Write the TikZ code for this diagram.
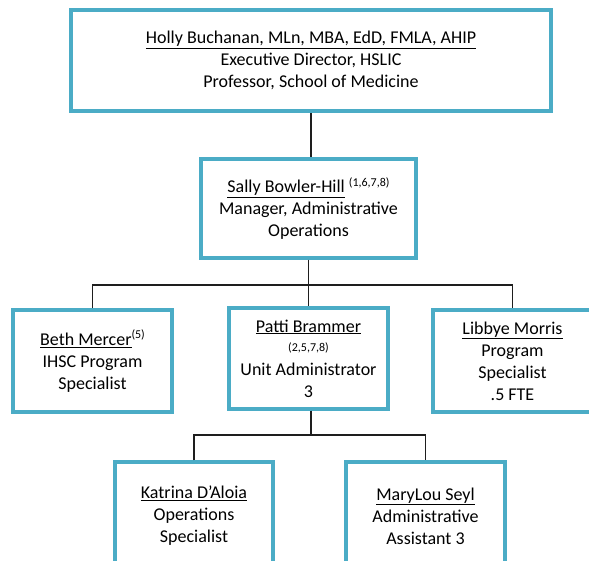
\documentclass[tikz,border=0pt]{standalone}
\usepackage{fontspec}
\setmainfont{Carlito}
\definecolor{boxteal}{RGB}{75,172,198}
\definecolor{linegray}{RGB}{30,30,30}
\newcommand{\supnum}[1]{\raisebox{6.5pt}{\fontsize{12}{14}\selectfont #1}}
\begin{document}
\begin{tikzpicture}[x=1pt,y=-1pt,
  orgbox/.style={draw=boxteal,line width=3.2pt,fill=white,inner sep=0pt,align=center,
    font=\fontsize{18}{22}\selectfont},
  conn/.style={draw=linegray,line width=1.4pt}]
\useasboundingbox (0,0) rectangle (589,560);
\clip (0,0) rectangle (589,560);
\fill[white] (0,0) rectangle (589,560);
\coordinate (bus1) at (308.5,285);
\coordinate (bus2) at (311,435);
\draw[conn] (311,111) -- (311,159);
\node[orgbox,minimum width=480pt,minimum height=101pt] (top) at (311,60.5)
  {\underline{Holly Buchanan, MLn, MBA, EdD, FMLA, AHIP}\\Executive Director, HSLIC\\Professor, School of Medicine};
\node[orgbox,minimum width=215pt,minimum height=99pt] (sally) at (308.5,208.5)
  {\underline{Sally Bowler-Hill} \supnum{(1,6,7,8)}\\Manager, Administrative\\Operations};
\node[orgbox,minimum width=159pt,minimum height=102pt] (beth) at (92.5,361)
  {\underline{Beth Mercer}\supnum{(5)}\\IHSC Program\\Specialist};
\node[orgbox,minimum width=159pt,minimum height=101pt] (patti) at (308.5,358.5)
  {\underline{Patti Brammer}\\[-3pt]{\fontsize{12}{14}\selectfont (2,5,7,8)}\\[2pt]Unit Administrator\\3};
\node[orgbox,minimum width=159pt,minimum height=102pt] (libbye) at (512.5,361)
  {\underline{Libbye Morris}\\Program\\Specialist\\.5 FTE};
\node[orgbox,minimum width=158pt,minimum height=108pt] (katrina) at (194,516)
  {\underline{Katrina D'Aloia}\\Operations\\Specialist};
\node[orgbox,minimum width=159pt,minimum height=108pt] (marylou) at (425.5,516)
  {\underline{MaryLou Seyl}\\Administrative\\Assistant 3};
\draw[conn] (sally.south) -- (patti.north);
\draw[conn] (beth.north) |- (bus1) -| (libbye.north);
\draw[conn] (patti.south -| bus2) -- (bus2);
\draw[conn] (katrina.north) |- (bus2) -| (marylou.north);
\end{tikzpicture}
\end{document}
